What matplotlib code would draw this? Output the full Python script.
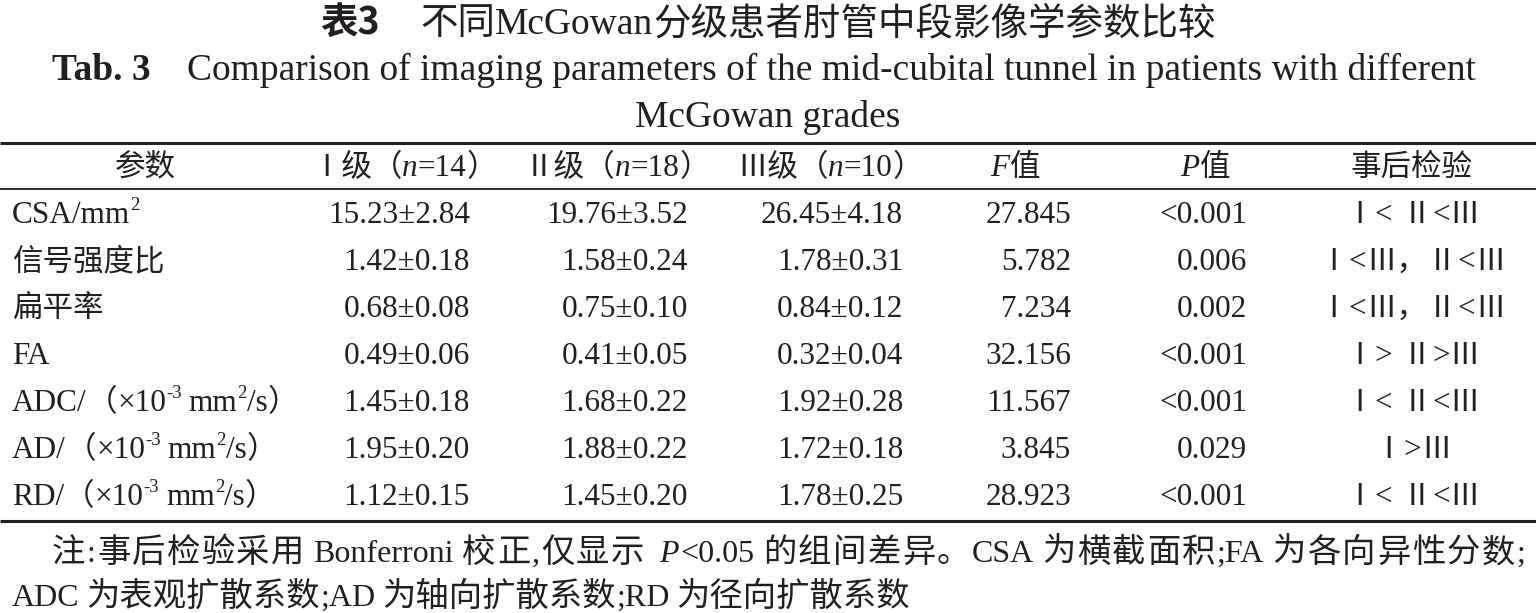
import re
import matplotlib
matplotlib.use('Agg')
import matplotlib.pyplot as plt
from matplotlib.lines import Line2D
from matplotlib.transforms import IdentityTransform

# ---------------- data ----------------
header = ["参数", "Ⅰ级（*n*=14）", "Ⅱ级（*n*=18）", "Ⅲ级（*n*=10）", "*F*值", "*P*值", "事后检验"]
params = ["CSA/mm^{2}", "信号强度比", "扁平率", "FA",
          "ADC/（×10^{-3} mm^{2}/s）", "AD/（×10^{-3} mm^{2}/s）", "RD/（×10^{-3} mm^{2}/s）"]
g1_mean = [15.23, 1.42, 0.68, 0.49, 1.45, 1.95, 1.12]
g1_sd = [2.84, 0.18, 0.08, 0.06, 0.18, 0.20, 0.15]
g2_mean = [19.76, 1.58, 0.75, 0.41, 1.68, 1.88, 1.45]
g2_sd = [3.52, 0.24, 0.10, 0.05, 0.22, 0.22, 0.20]
g3_mean = [26.45, 1.78, 0.84, 0.32, 1.92, 1.72, 1.78]
g3_sd = [4.18, 0.31, 0.12, 0.04, 0.28, 0.18, 0.25]
f_values = ["27.845", "5.782", "7.234", "32.156", "11.567", "3.845", "28.923"]
p_values = ["<0.001", "0.006", "0.002", "<0.001", "<0.001", "0.029", "<0.001"]
post_hoc = ["Ⅰ< Ⅱ<Ⅲ", "Ⅰ<Ⅲ，Ⅱ<Ⅲ", "Ⅰ<Ⅲ，Ⅱ<Ⅲ", "Ⅰ> Ⅱ>Ⅲ", "Ⅰ< Ⅱ<Ⅲ", "Ⅰ>Ⅲ", "Ⅰ< Ⅱ<Ⅲ"]
title_no_cn = "表3"
title_cn = "不同McGowan分级患者肘管中段影像学参数比较"
title_no_en = "Tab. 3"
title_en1 = "Comparison of imaging parameters of the mid-cubital tunnel in patients with different"
title_en2 = "McGowan grades"
note1 = "注:事后检验采用 Bonferroni 校正,仅显示 *P*<0.05 的组间差异。CSA 为横截面积;FA 为各向异性分数;"
note2 = "ADC 为表观扩散系数;AD 为轴向扩散系数;RD 为径向扩散系数"

# ---------------- setup ----------------
W, H, DPI = 1536, 613, 100
fig = plt.figure(figsize=(W / DPI, H / DPI), dpi=DPI)
fig.patch.set_facecolor('white')
renderer = fig.canvas.get_renderer()
INK = '#231f20'
LAT = 'Liberation Serif'
CJK = 'Noto Sans CJK SC'
PT = DPI / 72.0


def is_cjk(ch):
    return ord(ch) >= 0x2000


def split_runs(s):
    runs = []
    for ch in s:
        c = is_cjk(ch)
        if runs and runs[-1][1] == c:
            runs[-1][0] += ch
        else:
            runs.append([ch, c])
    return runs


def parse(s):
    segs = []
    for tok in re.split(r'(\^\{[^}]*\}|\*[^*]*\*)', s):
        if not tok:
            continue
        if tok.startswith('^{'):
            segs.append((tok[2:-1], 'sup'))
        elif tok.startswith('*'):
            segs.append((tok[1:-1], 'i'))
        else:
            segs.append((tok, 'r'))
    return segs


def draw(x, ybase, segs, ha='left', size=22.5, csize=22, weight='normal',
         cweight='normal', justify=None, space=0.22):
    if isinstance(segs, str):
        segs = parse(segs)
    items = []
    for seg in segs:
        if isinstance(seg, (int, float)):
            items.append(('gap', seg))
            continue
        text, kind = seg
        if kind == 'sup':
            items.append(('t', text, dict(family=[LAT, CJK], fontsize=size * 0.6), size * 0.42 * PT))
            continue
        if kind == 'cb':
            items.append(('t', text, dict(family=[CJK], fontsize=csize, fontweight='bold'), 0))
            continue
        style = 'italic' if kind == 'i' else 'normal'
        for run, c in split_runs(text):
            lead = len(run) - len(run.lstrip(' '))
            trail = len(run) - len(run.rstrip(' '))
            core = run.strip(' ')
            sw = space * size * PT
            if lead:
                items.append(('gap', lead * sw))
            if core:
                if c:
                    pieces = list(core) if justify else [core]
                    for pc in pieces:
                        items.append(('t', pc, dict(family=[CJK], fontsize=csize,
                                                    fontweight=cweight), 0))
                else:
                    items.append(('t', core, dict(family=[LAT, CJK], fontsize=size,
                                                  fontstyle=style, fontweight=weight), 0))
            if trail:
                items.append(('gap', trail * sw))
    arts = []
    total = 0
    for it in items:
        if it[0] == 'gap':
            arts.append((None, it[1], 0))
            total += it[1]
        else:
            t = fig.text(0, 0, it[1], transform=IdentityTransform(), ha='left', va='baseline',
                         color=INK, **it[2])
            w = t.get_window_extent(renderer).width
            arts.append((t, w, it[3]))
            total += w
    extra = 0
    if justify:
        ntext = sum(1 for a in arts if a[0] is not None)
        if ntext > 1:
            extra = (justify - total) / (ntext - 1)
    if ha == 'center':
        x0 = x - total / 2
    elif ha == 'right':
        x0 = x - total
    else:
        x0 = x
    cur = x0
    for t, w, dy in arts:
        if t is not None:
            t.set_position((cur, H - ybase + dy))
            cur += w + extra
        else:
            cur += w
    return total


def hline(y, lw):
    fig.add_artist(Line2D([0, W], [H - y, H - y], transform=IdentityTransform(),
                          color=INK, linewidth=lw, solid_capstyle='butt'))


# ---------------- titles ----------------
draw(768, 34, [(title_no_cn, 'cb'), 40, (title_cn, 'r')], ha='center', size=27, csize=27)
draw(52, 80, [(title_no_en, 'r')], size=27, weight='bold')
draw(1476, 80, [(title_en1, 'r')], ha='right', size=27)
draw(768, 127, [(title_en2, 'r')], ha='center', size=27)

# ---------------- rules ----------------
hline(143, 2.2)
hline(189, 1.3)
hline(521, 2.2)

# ---------------- header ----------------
hdr_x = [145, 404, 617, 830, 1015, 1205, 1412]
for hx, h in zip(hdr_x, header):
    draw(hx, 176, h, ha='center')

# ---------------- rows ----------------
for i, p in enumerate(params):
    yb = 223 + 47 * i
    draw(12, yb, p, ha='left')
    draw(470, yb, f"{g1_mean[i]:.2f}±{g1_sd[i]:.2f}", ha='right')
    draw(688, yb, f"{g2_mean[i]:.2f}±{g2_sd[i]:.2f}", ha='right')
    draw(903, yb, f"{g3_mean[i]:.2f}±{g3_sd[i]:.2f}", ha='right')
    draw(1071, yb, f_values[i], ha='right')
    draw(1247, yb, p_values[i], ha='right')
    draw(1412, yb, post_hoc[i], ha='center', csize=22, space=0.3)

# ---------------- notes ----------------
draw(52, 562, note1, ha='left', size=23, csize=24, justify=1473)
draw(12, 606, note2, ha='left', size=23, csize=24)

fig.savefig('out.png', dpi=DPI, facecolor='white')
